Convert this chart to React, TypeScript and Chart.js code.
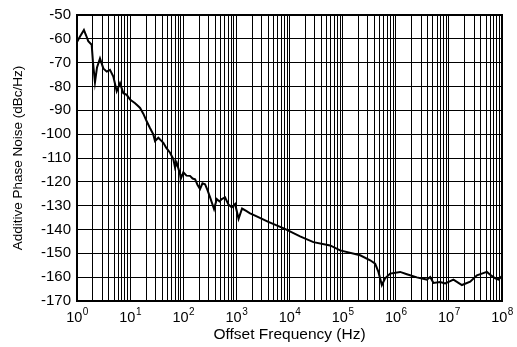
import React, { useEffect, useRef } from "react";
import { Chart, registerables } from "chart.js";

Chart.register(...registerables);

// Offset frequency (Hz)
const freqHz = [
  1.0, 1.14, 1.35, 1.48, 1.63, 1.89, 2.0, 2.18, 2.38, 2.71, 3.13, 3.63, 4.18, 4.83, 5.59, 6.45, 7.45, 8.63,
  9.96, 12.4, 14.3, 15.4, 17.8, 20.5, 23.5, 27.3, 29.4, 34, 38, 42.2, 48, 56.4, 65.1, 70.1, 75.4, 87, 89.7,
  100.5, 115, 134, 150, 167, 185, 207, 230, 257, 285, 320, 380, 428, 480, 531, 612, 707, 819, 946, 1100,
  1280, 1500, 1810, 2250, 4000, 8000, 15800, 28200, 58200, 89700, 214000, 330000, 409000, 472000, 547000,
  631000, 785000, 1.21e6, 1.62e6, 2.5e6, 3.85e6, 4.45e6, 5.13e6, 6.86e6, 8.51e6, 1.06e7, 1.22e7, 1.76e7,
  2.52e7, 3.37e7, 4.18e7, 5.2e7, 6.0e7, 7.45e7, 8.6e7, 1.0e8,
];

// Additive phase noise (dBc/Hz)
const noiseDbc = [
  -61.3, -59, -56.3, -58.5, -61, -62.5, -70, -78.2, -72, -68.2, -72.4, -73.75, -73, -75.8, -82, -78.6, -82.8, -83.5,
  -85.5, -87, -88.3, -89, -91.5, -94.6, -97.3, -100.1, -102.9, -101.5, -102.6, -103.6, -105.8, -107.8, -110.5, -114, -112, -116.8, -118.75,
  -116, -117.4, -117.5, -118.6, -118.9, -121.2, -123, -120.6, -121, -123.4, -126.5, -131.4, -127.2, -128.2, -127.2, -126.5, -129.5, -130.7, -129.3, -135.5,
  -131.2, -132.1, -133.2, -134.2, -136.8, -139.6, -142.9, -145.3, -146.7, -148.75, -150.8, -152.9, -154.3, -157.8, -163.3,
  -160.5, -158.5, -157.8, -158.75, -160.1, -161, -159.9, -162.4, -162, -162.6, -161.7, -161, -163.3,
  -161.9, -159.2, -158.5, -157.8, -159, -160.5, -161, -159.5,
];

// Axis ticks
const yTickValues = [-50, -60, -70, -80, -90, -100, -110, -120, -130, -140, -150, -160, -170];
const xDecadeExponents = [0, 1, 2, 3, 4, 5, 6, 7, 8];

const FONT = "'Liberation Sans', Arial, sans-serif";

export default function App() {
  const ref = useRef<HTMLCanvasElement | null>(null);

  useEffect(() => {
    document.body.style.margin = "0";
    const canvas = ref.current;
    if (!canvas) return;

    const superscriptLabels = {
      id: "supLabels",
      afterDraw(chart: any) {
        const ctx = chart.ctx;
        const xs = chart.scales.x;
        ctx.save();
        ctx.fillStyle = "#000";
        ctx.textBaseline = "alphabetic";
        ctx.textAlign = "left";
        for (const e of xDecadeExponents) {
          const x = xs.getPixelForValue(Math.pow(10, e));
          ctx.font = `14.5px ${FONT}`;
          const w1 = ctx.measureText("10").width;
          ctx.font = `10px ${FONT}`;
          const sup = String(e);
          const w2 = ctx.measureText(sup).width;
          const start = x - (w1 + w2) / 2;
          ctx.font = `14.5px ${FONT}`;
          ctx.fillText("10", start, xs.top + 21);
          ctx.font = `10px ${FONT}`;
          ctx.fillText(sup, start + w1 + 0.5, xs.top + 14);
        }
        // frame
        const a = chart.chartArea;
        ctx.strokeStyle = "#000";
        ctx.lineWidth = 2;
        ctx.strokeRect(a.left, a.top, a.right - a.left, a.bottom - a.top);
        ctx.restore();
      },
    };

    const chart = new Chart(canvas, {
      type: "line",
      data: {
        datasets: [
          {
            data: freqHz.map((f, i) => ({ x: f, y: noiseDbc[i] })),
            borderColor: "#000",
            borderWidth: 2,
            pointRadius: 0,
            tension: 0,
            fill: false,
          },
        ],
      },
      options: {
        animation: false,
        responsive: false,
        maintainAspectRatio: false,
        layout: { padding: { top: 13, right: 15, left: 0, bottom: 0 } },
        plugins: { legend: { display: false }, tooltip: { enabled: false } },
        scales: {
          x: {
            type: "logarithmic",
            min: 1,
            max: 1e8,
            afterBuildTicks(scale: any) {
              const t: any[] = [];
              for (let e = 0; e < 8; e++) {
                for (let m = 1; m <= 9; m++) t.push({ value: m * Math.pow(10, e) });
              }
              t.push({ value: 1e8 });
              scale.ticks = t;
            },
            afterFit(scale: any) {
              scale.height = 46;
            },
            ticks: { display: false, autoSkip: false },
            grid: { color: "#000", lineWidth: 1, drawTicks: false },
            border: { display: true, color: "#000", width: 2 },
            title: {
              display: true,
              text: "Offset Frequency (Hz)",
              color: "#000",
              font: { family: FONT, size: 15.5 },
              padding: { top: 0, bottom: 3 },
            },
          },
          y: {
            type: "linear",
            min: -170,
            max: -50,
            afterBuildTicks(scale: any) {
              scale.ticks = yTickValues.map((v) => ({ value: v }));
            },
            afterFit(scale: any) {
              scale.width = 77;
            },
            ticks: {
              color: "#000",
              font: { family: FONT, size: 15 },
              padding: 6,
              autoSkip: false,
            },
            grid: { color: "#000", lineWidth: 1, drawTicks: false },
            border: { display: true, color: "#000", width: 2 },
            title: {
              display: true,
              text: "Additive Phase Noise (dBc/Hz)",
              color: "#000",
              font: { family: FONT, size: 13.5 },
              padding: { top: 10, bottom: 0 },
            },
          },
        },
      },
      plugins: [superscriptLabels],
    });

    return () => chart.destroy();
  }, []);

  return (
    <div style={{ width: 517, height: 347 }}>
      <canvas ref={ref} width={517} height={347} />
    </div>
  );
}
